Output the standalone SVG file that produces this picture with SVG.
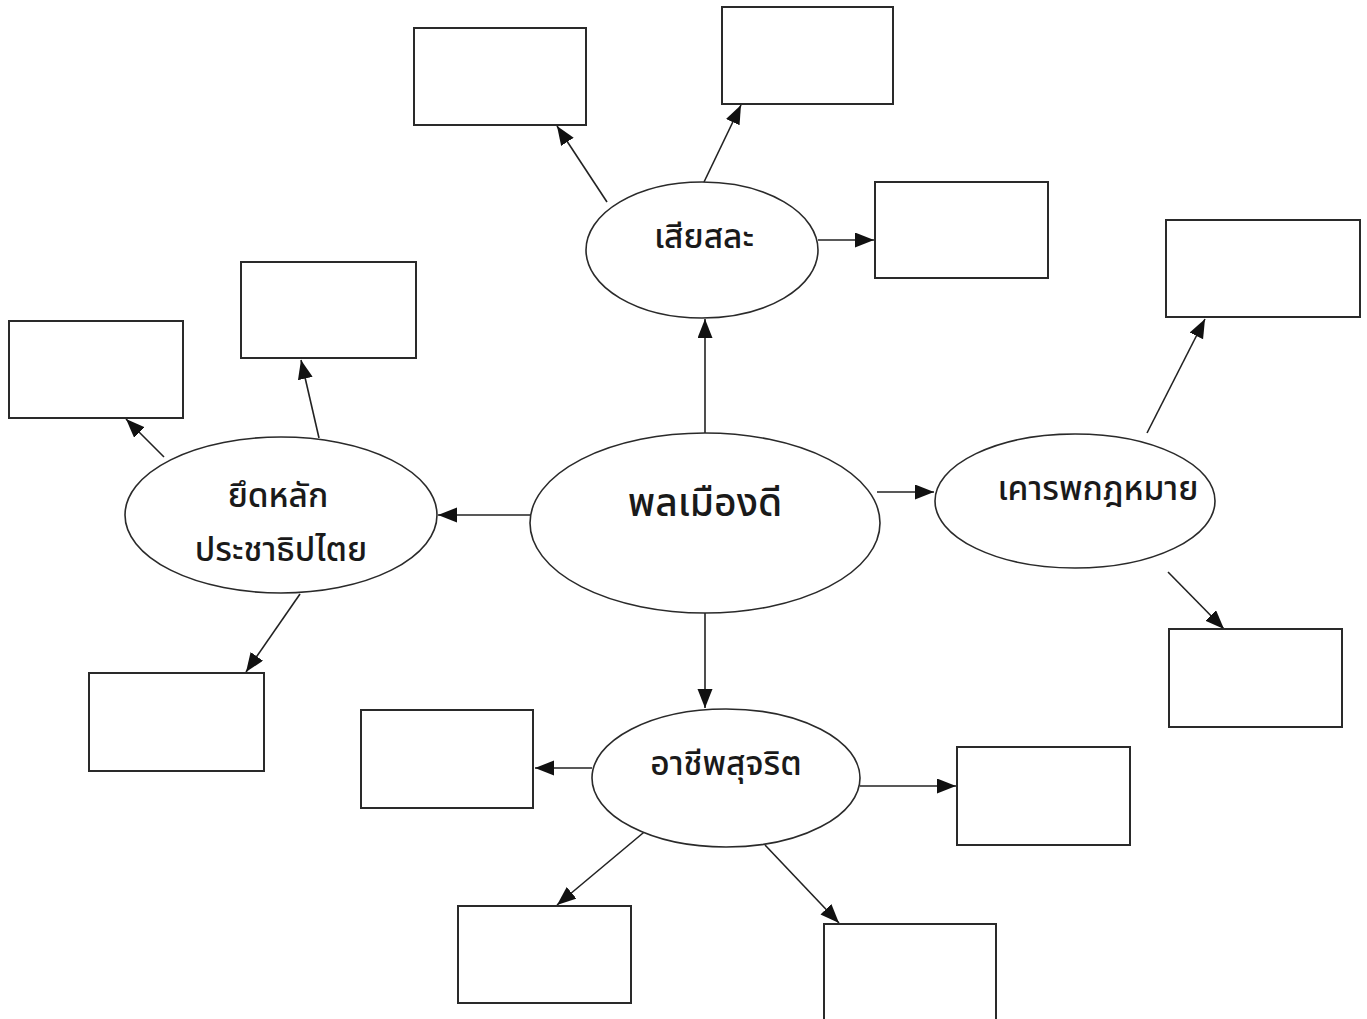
<svg xmlns="http://www.w3.org/2000/svg" width="1367" height="1019" viewBox="0 0 1367 1019">
<style>
.box{fill:#fff;stroke:#2a2a2a;stroke-width:2}
.ell{fill:#fff;stroke:#2a2a2a;stroke-width:1.6}
.lbl{font-family:"Noto Sans Thai","Noto Sans","DejaVu Sans",sans-serif;font-size:33.5px;font-weight:500;fill:#1a1a1a;text-anchor:middle}
.big{font-size:39px}
.con line{stroke:#222;stroke-width:1.6;marker-end:url(#ah)}
</style>
<defs>
<marker id="ah" markerUnits="userSpaceOnUse" markerWidth="20" markerHeight="16" refX="19" refY="7.5" orient="auto">
<path d="M0,0 L19,7.5 L0,15 z" fill="#111"/>
</marker>
</defs>
<rect width="1367" height="1019" fill="#fff"/>
<g class="con" id="connectors">
<line x1="705" y1="433" x2="705" y2="319"/>
<line x1="531" y1="515" x2="438" y2="515"/>
<line x1="877" y1="492" x2="934" y2="492"/>
<line x1="705" y1="612" x2="705" y2="708"/>
<line x1="607" y1="202" x2="557" y2="126"/>
<line x1="704" y1="182" x2="741" y2="105"/>
<line x1="818" y1="240" x2="874" y2="240"/>
<line x1="164" y1="457" x2="126" y2="419"/>
<line x1="319" y1="438" x2="301" y2="360"/>
<line x1="300" y1="594" x2="246" y2="672"/>
<line x1="1147" y1="433" x2="1205" y2="319"/>
<line x1="1168" y1="572" x2="1224" y2="629"/>
<line x1="592" y1="768" x2="535" y2="768"/>
<line x1="860" y1="786" x2="956" y2="786"/>
<line x1="649" y1="828" x2="557" y2="905"/>
<line x1="765" y1="845" x2="839" y2="923"/>
</g>
<g id="n-center"><ellipse class="ell" cx="705" cy="523" rx="175" ry="90"/><text class="lbl big" x="705" y="516">พลเมืองดี</text></g>
<g id="n-top"><ellipse class="ell" cx="702" cy="250" rx="116" ry="68"/><text class="lbl" x="704" y="248">เสียสละ</text></g>
<g id="n-left"><ellipse class="ell" cx="281" cy="515" rx="156" ry="78"/><text class="lbl" x="278" y="507">ยึดหลัก</text><text class="lbl" x="281" y="561">ประชาธิปไตย</text></g>
<g id="n-right"><ellipse class="ell" cx="1075" cy="501" rx="140" ry="67"/><text class="lbl" x="1098" y="500">เคารพกฎหมาย</text></g>
<g id="n-bottom"><ellipse class="ell" cx="726" cy="778" rx="134" ry="69"/><text class="lbl" x="726" y="775">อาชีพสุจริต</text></g>
<g id="b1"><rect class="box" x="414" y="28" width="172" height="97"/></g>
<g id="b2"><rect class="box" x="722" y="7" width="171" height="97"/></g>
<g id="b3"><rect class="box" x="875" y="182" width="173" height="96"/></g>
<g id="b4"><rect class="box" x="1166" y="220" width="194" height="97"/></g>
<g id="b5"><rect class="box" x="1169" y="629" width="173" height="98"/></g>
<g id="b6"><rect class="box" x="9" y="321" width="174" height="97"/></g>
<g id="b7"><rect class="box" x="241" y="262" width="175" height="96"/></g>
<g id="b8"><rect class="box" x="89" y="673" width="175" height="98"/></g>
<g id="b9"><rect class="box" x="361" y="710" width="172" height="98"/></g>
<g id="b10"><rect class="box" x="957" y="747" width="173" height="98"/></g>
<g id="b11"><rect class="box" x="458" y="906" width="173" height="97"/></g>
<g id="b12"><rect class="box" x="824" y="924" width="172" height="100"/></g>
</svg>
